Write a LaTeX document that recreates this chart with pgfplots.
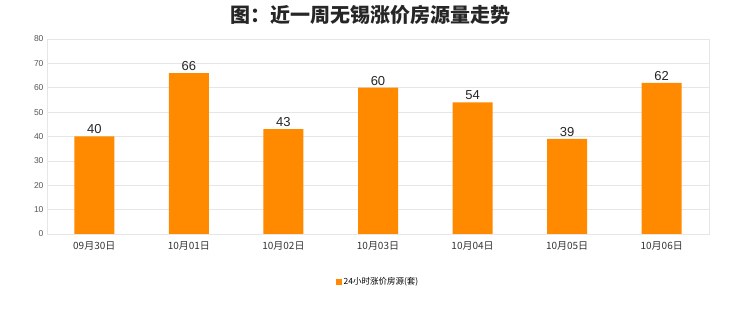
\documentclass[border=0pt]{standalone}
\usepackage{pgfplots}
\pgfplotsset{compat=1.18}
\usepackage{fontspec}
\setmainfont{Liberation Sans}
\newfontfamily\cjk{Noto Sans CJK SC}
\definecolor{barorange}{HTML}{FF8A00}
\definecolor{gridgray}{HTML}{E6E6E6}
\definecolor{ticktext}{HTML}{555555}
\begin{document}
\begin{tikzpicture}[x=1pt,y=1pt]
\useasboundingbox[fill=white] (0,0) rectangle (740,312);
\node[font=\cjk\bfseries\fontsize{20}{22}\selectfont, text=black!85] at (370,297) {图：近一周无锡涨价房源量走势};
\begin{axis}[
  at={(47pt,78pt)}, anchor=south west,
  scale only axis, width=662pt, height=195pt,
  xmin=-0.5, xmax=6.5, ymin=0, ymax=80,
  ytick={0,10,...,80},
  xtick={0,...,6},
  xticklabels={09月30日,10月01日,10月02日,10月03日,10月04日,10月05日,10月06日},
  xticklabel style={font=\cjk\fontsize{10}{11}\selectfont, text=black!80, yshift=-4pt},
  yticklabel style={font=\fontsize{8.5}{9}\selectfont, text=ticktext},
  /pgf/number format/assume math mode=true,
  major tick length=0pt,
  ymajorgrids, grid style={gridgray, line width=0.6pt},
  axis line style={gridgray, line width=0.8pt},
  ybar, bar width=40pt,
  nodes near coords,
  every node near coord/.append style={font=\fontsize{13}{14}\selectfont, text=black!85, yshift=-1pt},
  legend style={at={(0.5,-0.2)}, anchor=north, draw=none, font=\cjk\fontsize{8.5}{9}\selectfont},
]
\addplot[fill=barorange, draw=none, legend image code/.code={\fill[barorange] (0pt,-3pt) rectangle (6pt,3pt);}] coordinates {(0,40) (1,66) (2,43) (3,60) (4,54) (5,39) (6,62)};
\addlegendentry{24小时涨价房源(套)}
\end{axis}
\end{tikzpicture}
\end{document}
